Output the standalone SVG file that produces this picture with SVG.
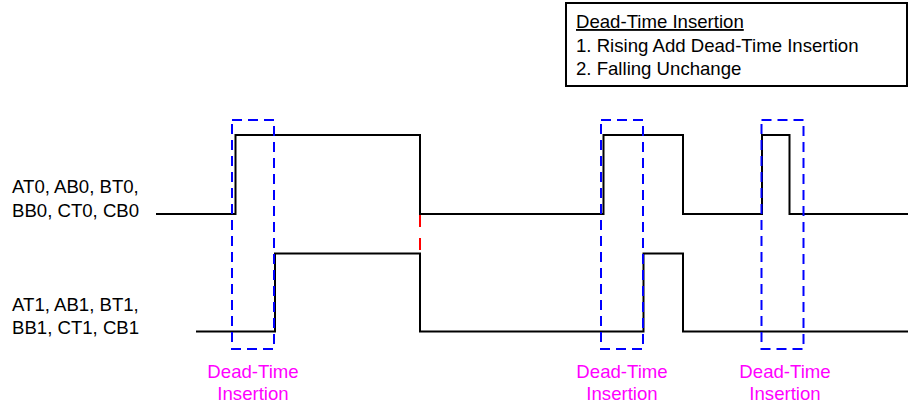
<svg xmlns="http://www.w3.org/2000/svg" width="908" height="403" viewBox="0 0 908 403">
<style>
text{font-family:"Liberation Sans",Arial,sans-serif;font-size:18.6px;fill:#000}
.pink{fill:#FF00FF;text-anchor:middle}
.sig{fill:none;stroke:#000;stroke-width:2}
.dt{fill:none;stroke:#0000FF;stroke-width:2;stroke-dasharray:10,6}
.red{stroke:#FF0000;stroke-width:2;stroke-dasharray:12,11}
</style>
<rect width="908" height="403" fill="#fff"/>
<g id="legend">
<rect x="566" y="3" width="341" height="83" fill="#fff" stroke="#000" stroke-width="2"/>
<text x="576" y="28" text-decoration="underline">Dead-Time Insertion</text>
<text x="576" y="52">1. Rising Add Dead-Time Insertion</text>
<text x="576" y="75">2. Falling Unchange</text>
</g>
<g id="labels">
<text x="12" y="193">AT0, AB0, BT0,</text>
<text x="12" y="217">BB0, CT0, CB0</text>
<text x="12" y="311">AT1, AB1, BT1,</text>
<text x="12" y="334">BB1, CT1, CB1</text>
</g>
<g id="connectors">
<polyline id="sig0" class="sig" points="156,214 235.5,214 235.5,135 420,135 420,214 603.5,214 603.5,135 683,135 683,214 762,214 762,135 789.5,135 789.5,214 908,214"/>
<polyline id="sig1" class="sig" points="196,331.5 275,331.5 275,253.5 420,253.5 420,331.5 643.5,331.5 643.5,253.5 683,253.5 683,331.5 908,331.5"/>
<line id="red-gap" class="red" x1="420" y1="215" x2="420" y2="253"/>
</g>
<g id="dt1">
<rect class="dt" x="232" y="120" width="42" height="229"/>
<text class="pink" x="253" y="378">Dead-Time</text>
<text class="pink" x="253" y="399.5">Insertion</text>
</g>
<g id="dt2">
<rect class="dt" x="601" y="120" width="42" height="229"/>
<text class="pink" x="622" y="378">Dead-Time</text>
<text class="pink" x="622" y="399.5">Insertion</text>
</g>
<g id="dt3">
<rect class="dt" x="761.5" y="120" width="42" height="229"/>
<text class="pink" x="785" y="378">Dead-Time</text>
<text class="pink" x="785" y="399.5">Insertion</text>
</g>
</svg>
